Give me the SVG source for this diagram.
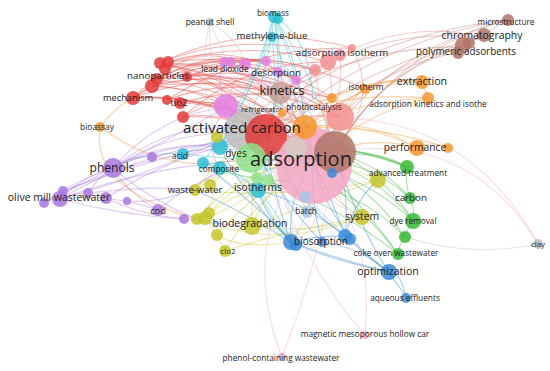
<svg xmlns="http://www.w3.org/2000/svg" width="550" height="371" viewBox="0 0 550 371">
<style>
text{font-family:"Open Sans","Noto Sans","Liberation Sans",sans-serif;fill:#222;text-anchor:middle}
#connectors path{fill:none;stroke-width:1.1;stroke-opacity:.45}
.er path{stroke:#e8504a}.em path{stroke:#dc7edc}.ec path{stroke:#3cc6d6}.ep path{stroke:#b585e0}
.ey path{stroke:#c9c93a}.eb path{stroke:#3b8bd8}.elb path{stroke:#9fc2e6}.eg path{stroke:#45bb45}
.eo path{stroke:#f5a040}.es path{stroke:#f09090}.ebr path{stroke:#c88880}.epk path{stroke:#eeb0cc}
.egr path{stroke:#c4c4c4}.ek path{stroke:#c8a09a}
circle{fill-opacity:.85}
.red{fill:#e23b3b}.mag{fill:#e27ee2}.cya{fill:#2bbfd3}.pur{fill:#a877de}.yel{fill:#c6c62c}
.grn{fill:#35b835}.lgr{fill:#8ee08a}.blu{fill:#3a88d8}.lbl{fill:#a9c6e6}.ora{fill:#f5972e}
.brn{fill:#b07468}.sal{fill:#f29090}.pnk{fill:#f4a6c4}.gry{fill:#bdbdbd}.kin{fill:#c8a09a}
</style>
<g id="connectors">
<g class="er">
<path d="M164,64 Q258,82 313,160"/><path d="M164,64 Q230,80 266,137"/><path d="M164,64 Q226,60 280,93"/>
<path d="M164,64 Q246,38 328,62"/><path d="M164,64 Q260,65 340,118"/><path d="M164,64 Q262,81 335,150"/>
<path d="M187,77 Q267,93 313,160"/><path d="M187,77 Q235,71 280,93"/><path d="M187,77 Q250,48 315,70"/>
<path d="M187,77 Q243,56 297,80"/><path d="M152,86 Q247,91 313,160"/><path d="M152,86 Q219,89 266,137"/>
<path d="M152,86 Q215,69 280,93"/><path d="M152,86 Q251,74 340,118"/><path d="M152,86 Q245,65 333,99"/>
<path d="M133,98 Q235,93 313,160"/><path d="M133,98 Q207,91 266,137"/><path d="M133,98 Q203,71 280,93"/>
<path d="M133,98 Q242,94 335,150"/><path d="M167,100 Q252,101 313,160"/><path d="M167,100 Q220,79 280,93"/>
<path d="M167,100 Q252,46 352,48"/><path d="M180,103 Q258,105 313,160"/><path d="M180,103 Q267,96 335,150"/>
<path d="M180,103 Q263,79 340,118"/><path d="M183,117 Q257,113 313,160"/><path d="M183,117 Q229,110 266,137"/>
<path d="M183,117 Q245,61 328,62"/><path d="M158,80 Q228,52 297,80"/><path d="M158,80 Q252,89 313,160"/>
<path d="M158,80 Q208,49 266,62"/><path d="M160,63 Q240,30 340,55"/><path d="M168,62 Q230,40 296,80"/>
<path d="M133,98 Q200,50 266,61"/><path d="M152,86 Q190,40 245,64"/><path d="M187,77 Q255,100 305,128"/>
<path d="M133,98 Q230,40 315,70"/><path d="M160,63 Q250,20 352,48"/><path d="M133,98 Q170,60 231,62"/>
<path d="M168,62 Q260,50 332,98"/><path d="M157,79 Q250,60 305,128"/><path d="M183,117 Q250,80 332,98"/>
<path d="M165,69 Q270,45 365,89"/><path d="M187,77 Q280,60 340,118"/>
</g>
<g class="em">
<path d="M224,62 Q289,93 313,160"/><path d="M245,64 Q298,98 313,160"/><path d="M266,61 Q309,102 313,160"/>
<path d="M227,107 Q281,116 313,160"/><path d="M227,107 Q250,110 266,137"/><path d="M224,62 Q215,85 227,107"/>
<path d="M245,64 Q230,85 227,107"/><path d="M278,72 Q280,100 266,137"/><path d="M296,80 Q310,120 335,152"/>
<path d="M231,62 Q260,80 280,93"/><path d="M227,107 Q200,140 220,168"/>
</g>
<g class="ec">
<path d="M274,17 Q305,90 313,160"/><path d="M274,17 Q285,80 266,137"/><path d="M274,17 Q268,75 245,130"/>
<path d="M274,17 Q258,80 220,147"/><path d="M274,17 Q295,110 258,190"/><path d="M274,17 Q250,95 203,163"/>
<path d="M272,37 Q300,100 313,160"/><path d="M272,37 Q250,90 220,147"/><path d="M272,37 Q282,120 258,190"/>
<path d="M274,17 Q312,70 335,152"/><path d="M274,17 Q300,60 305,128"/><path d="M220,147 Q265,140 313,160"/>
<path d="M203,163 Q255,178 313,160"/><path d="M258,190 Q290,188 313,160"/><path d="M183,154 Q250,162 313,160"/>
<path d="M183,154 Q150,150 113,168"/><path d="M220,168 Q260,175 291,242"/><path d="M258,190 Q270,215 291,242"/>
<path d="M220,147 Q230,135 266,137"/><path d="M183,154 Q215,140 245,130"/><path d="M203,163 Q240,175 258,190"/>
<path d="M278,19 Q310,40 313,100"/>
</g>
<g class="ep">
<path d="M113,168 Q211,124 313,160"/><path d="M113,168 Q183,122 266,137"/><path d="M113,168 Q175,118 245,130"/>
<path d="M113,168 Q165,140 220,147"/><path d="M113,168 Q130,155 152,157"/><path d="M113,168 Q85,175 60,199"/>
<path d="M113,168 Q130,195 158,210"/><path d="M113,168 Q150,200 197,219"/><path d="M113,168 Q158,115 227,107"/>
<path d="M60,199 Q183,154 313,160"/><path d="M60,199 Q156,143 266,137"/><path d="M60,199 Q110,193 158,210"/>
<path d="M60,199 Q120,215 184,219"/><path d="M44,203 Q75,180 113,168"/><path d="M88,193 Q100,175 113,168"/>
<path d="M106,198 Q180,150 266,137"/><path d="M63,191 Q190,145 305,128"/><path d="M152,157 Q230,140 313,160"/>
<path d="M158,210 Q225,154 313,160"/><path d="M184,219 Q220,225 252,226"/><path d="M127,201 Q180,205 220,168"/>
<path d="M60,199 Q150,175 245,130"/><path d="M88,193 Q160,185 195,190"/><path d="M106,198 Q140,215 184,219"/>
<path d="M44,203 Q150,150 227,107"/><path d="M63,191 Q140,160 183,154"/>
</g>
<g class="ey">
<path d="M252,226 Q269,181 313,160"/><path d="M252,226 Q250,180 266,137"/><path d="M195,190 Q248,151 313,160"/>
<path d="M195,190 Q225,150 266,137"/><path d="M197,219 Q243,166 313,160"/><path d="M205,218 Q250,175 305,198"/>
<path d="M217,235 Q255,190 313,160"/><path d="M225,251 Q255,200 313,160"/><path d="M225,251 Q215,230 205,218"/>
<path d="M209,213 Q260,160 335,152"/><path d="M210,185 Q240,160 266,137"/><path d="M217,137 Q265,125 313,160"/>
<path d="M362,217 Q326,198 313,160"/><path d="M378,180 Q345,165 313,160"/><path d="M197,219 Q280,251 362,217"/>
<path d="M252,226 Q310,235 362,217"/><path d="M195,190 Q290,200 378,180"/><path d="M252,226 Q320,200 378,180"/>
<path d="M217,235 Q240,250 291,242"/><path d="M205,218 Q230,210 258,190"/><path d="M197,219 Q220,200 210,185"/>
<path d="M225,251 Q290,230 362,217"/>
</g>
<g class="eb">
<path d="M291,242 Q287,197 313,160"/><path d="M291,242 Q270,185 266,137"/><path d="M322,242 Q310,200 313,160"/>
<path d="M345,236 Q330,195 313,160"/><path d="M389,272 Q329,231 313,160"/><path d="M389,272 Q360,250 345,236"/>
<path d="M406,298 Q400,270 389,272"/><path d="M406,298 Q380,250 322,242"/><path d="M291,242 Q340,260 389,272"/>
<path d="M291,242 Q265,215 258,190"/><path d="M291,242 Q240,190 220,147"/><path d="M291,242 Q240,210 195,190"/>
<path d="M345,236 Q350,190 335,152"/><path d="M345,236 Q355,200 378,180"/><path d="M291,242 Q320,235 345,236"/>
<path d="M389,272 Q360,230 335,152"/><path d="M350,238 Q300,210 266,137"/><path d="M389,272 Q330,260 291,242"/>
<path d="M322,242 Q280,200 245,130"/><path d="M345,236 Q300,200 258,190"/><path d="M296,244 Q250,200 203,163"/>
</g>
<g class="elb">
<path d="M305,198 Q300,175 313,160"/><path d="M307,212 Q290,170 266,137"/><path d="M305,198 Q330,220 345,236"/>
<path d="M307,212 Q300,230 291,242"/>
</g>
<g class="eg">
<path d="M313,160 Q361,145 407,167"/><path d="M313,160 Q369,160 410,198"/><path d="M313,160 Q375,170 413,221"/>
<path d="M313,160 Q370,185 405,237"/><path d="M313,160 Q360,200 398,254"/><path d="M250,158 Q333,134 407,167"/>
<path d="M250,158 Q347,159 413,221"/><path d="M266,137 Q370,150 410,198"/><path d="M266,137 Q350,190 398,254"/>
<path d="M257,178 Q330,200 398,254"/><path d="M268,180 Q350,180 405,237"/><path d="M335,152 Q380,150 407,167"/>
<path d="M335,152 Q385,175 413,221"/><path d="M407,167 Q405,185 410,198"/><path d="M410,198 Q415,210 413,221"/>
<path d="M413,221 Q400,240 398,254"/><path d="M250,158 Q260,175 258,190"/><path d="M257,178 Q230,175 220,168"/>
<path d="M250,158 Q285,150 313,160"/><path d="M245,130 Q330,140 407,167"/>
</g>
<g class="eo">
<path d="M305,128 Q354,82 422,82"/><path d="M305,128 Q360,100 428,98"/><path d="M305,128 Q365,116 417,148"/>
<path d="M305,128 Q380,125 448,148"/><path d="M332,98 Q380,75 422,82"/><path d="M365,89 Q395,75 422,82"/>
<path d="M313,160 Q363,133 417,148"/><path d="M365,89 Q330,110 313,160"/><path d="M428,98 Q360,115 313,160"/>
<path d="M417,148 Q432,140 448,148"/><path d="M266,137 Q333,78 422,82"/><path d="M282,113 Q300,120 313,160"/>
<path d="M100,127 Q116,106 133,98"/><path d="M100,127 Q200,200 305,128"/><path d="M100,127 Q90,190 200,220"/>
<path d="M332,98 Q320,115 305,128"/><path d="M365,89 Q345,100 335,152"/><path d="M422,82 Q425,90 428,98"/>
<path d="M266,137 Q340,110 417,148"/><path d="M245,130 Q330,90 428,98"/>
</g>
<g class="es">
<path d="M328,62 Q340,114 313,160"/><path d="M340,55 Q345,110 313,160"/><path d="M352,48 Q300,90 266,137"/>
<path d="M315,70 Q300,100 266,137"/><path d="M340,118 Q330,140 313,160"/><path d="M328,62 Q300,80 280,93"/>
<path d="M340,55 Q300,60 280,93"/><path d="M340,118 Q300,110 266,137"/><path d="M315,70 Q320,110 335,152"/>
<path d="M352,48 Q380,100 335,152"/><path d="M340,118 Q390,60 462,47"/><path d="M328,62 Q401,18 484,37"/>
<path d="M340,118 Q310,110 245,130"/>
</g>
<g class="ebr">
<path d="M335,152 Q395,50 508,20"/><path d="M335,152 Q378,73 462,47"/><path d="M335,152 Q385,63 484,37"/>
<path d="M313,160 Q382,51 508,20"/><path d="M266,137 Q369,42 508,20"/><path d="M280,93 Q366,26 484,37"/>
<path d="M280,93 Q370,45 462,47"/><path d="M245,130 Q361,35 508,20"/><path d="M484,37 Q495,25 508,20"/>
<path d="M462,47 Q470,40 484,37"/><path d="M305,128 Q400,60 458,53"/><path d="M266,137 Q380,60 484,37"/>
</g>
<g class="epk">
<path d="M340,118 Q470,120 538,244"/><path d="M335,152 Q470,130 538,244"/><path d="M313,160 Q375,230 365,335"/>
<path d="M266,137 Q290,250 365,335"/><path d="M282,357 Q240,250 300,165"/><path d="M282,357 Q320,260 335,160"/>
<path d="M313,160 Q330,230 291,242"/>
</g>
<g class="egr">
<path d="M405,237 Q470,258 538,244"/><path d="M210,22 Q205,80 245,130"/><path d="M210,22 Q195,80 220,147"/>
<path d="M210,22 Q240,40 245,64"/><path d="M245,130 Q280,160 313,160"/><path d="M245,130 Q300,200 291,242"/>
<path d="M245,130 Q320,200 362,217"/><path d="M210,22 Q230,70 266,137"/>
</g>
<g class="ek">
<path d="M280,93 Q300,120 313,160"/><path d="M280,93 Q250,120 245,130"/>
</g>
</g>
<g id="n-activated-carbon"><circle class="gry" cx="245" cy="130" r="21"/></g>
<g id="n-red-hub"><circle class="red" cx="266" cy="135" r="21"/></g>
<g id="n-adsorption-hub"><circle class="pnk" cx="314" cy="166" r="38"/></g>
<g id="n-brown-hub"><circle class="brn" cx="335" cy="152" r="21" fill-opacity=".7"/></g>
<g id="n-grey-inner"><circle cx="296" cy="148" r="11" fill="#d4ccc4" fill-opacity=".7"/></g>
<g id="n-dyes"><circle class="lgr" cx="251" cy="158" r="15"/><text x="236" y="157" font-size="10">dyes</text></g>
<g id="n-orange-hub"><circle class="ora" cx="305" cy="127" r="12"/></g>
<g id="n-photocat-big"><circle class="sal" cx="340" cy="117" r="14"/></g>
<g id="n-refrigerator"><circle class="mag" cx="226" cy="106" r="12"/><text x="262" y="111.5" font-size="7.8">refrigerator</text></g>
<g id="n-kinetics"><circle class="kin" cx="280" cy="93" r="11"/><text x="282" y="94.5" font-size="12.8">kinetics</text></g>
<g id="n-red-cluster">
<circle class="red" cx="160" cy="63" r="6"/><circle class="red" cx="168" cy="62" r="6"/><circle class="red" cx="165" cy="69" r="6"/>
<circle class="red" cx="187" cy="77" r="5"/><circle class="red" cx="157" cy="79" r="6"/><circle class="red" cx="183" cy="117" r="6"/>
<circle class="red" cx="167" cy="100" r="5"/>
</g>
<g id="n-nanoparticles"><circle class="red" cx="152" cy="86" r="7"/><text x="158" y="79" font-size="9.8">nanoparticles</text></g>
<g id="n-mechanism"><circle class="red" cx="133" cy="98" r="7"/><text x="128" y="101" font-size="9.3">mechanism</text></g>
<g id="n-tio2"><circle class="red" cx="180" cy="103" r="6"/><text x="179" y="106" font-size="9.6">tio2</text></g>
<g id="n-magenta-cluster">
<circle class="mag" cx="231" cy="62" r="5"/><circle class="mag" cx="245" cy="64" r="6"/><circle class="mag" cx="266" cy="61" r="5"/>
<circle class="mag" cx="296" cy="80" r="5"/>
</g>
<g id="n-lead-dioxide"><circle class="mag" cx="224" cy="62" r="5"/><text x="225" y="71.7" font-size="8.4">lead dioxide</text></g>
<g id="n-desorption"><circle class="mag" cx="278" cy="72" r="5"/><text x="276" y="76" font-size="9.8">desorption</text></g>
<g id="n-peanut-shell"><circle class="gry" cx="210" cy="22" r="4"/><text x="210" y="24.7" font-size="8.5">peanut shell</text></g>
<g id="n-biomass"><circle class="cya" cx="278" cy="19" r="5"/><circle class="cya" cx="274" cy="17" r="6"/><text x="273" y="15.6" font-size="8.2">biomass</text></g>
<g id="n-methylene-blue"><circle class="cya" cx="272" cy="37" r="5"/><text x="272" y="39" font-size="9.7">methylene-blue</text></g>
<g id="n-salmon-cluster"><circle class="sal" cx="352" cy="48" r="4"/><circle class="sal" cx="340" cy="55" r="6"/><circle class="sal" cx="315" cy="70" r="6"/></g>
<g id="n-adsorption-isotherm"><circle class="sal" cx="328" cy="62" r="8"/><text x="342" y="56" font-size="9.7">adsorption isotherm</text></g>
<g id="n-photocatalysis"><circle class="ora" cx="332" cy="98" r="5"/><circle class="ora" cx="282" cy="113" r="4"/><text x="314" y="109.7" font-size="8.3">photocatalysis</text></g>
<g id="n-isotherm"><circle class="ora" cx="365" cy="89" r="5"/><text x="366" y="89.7" font-size="8.3">isotherm</text></g>
<g id="n-extraction"><circle class="ora" cx="422" cy="82" r="7"/><text x="422" y="85.4" font-size="10.7">extraction</text></g>
<g id="n-adsorption-kinetics"><circle class="ora" cx="428" cy="98" r="6"/><text x="428" y="106.7" font-size="8.4">adsorption kinetics and isothe</text></g>
<g id="n-microstructure"><circle class="brn" cx="508" cy="20" r="6"/><text x="506" y="24.6" font-size="8.2">microstructure</text></g>
<g id="n-chromatography"><circle class="brn" cx="484" cy="35" r="7"/><text x="482" y="39.3" font-size="10.4">chromatography</text></g>
<g id="n-polymeric-adsorbents"><circle class="brn" cx="463" cy="45" r="8"/><circle class="brn" cx="469" cy="43" r="6"/><circle class="brn" cx="458" cy="53" r="6"/><text x="466" y="55.2" font-size="9.9">polymeric adsorbents</text></g>
<g id="n-performance"><circle class="ora" cx="417" cy="148" r="8"/><circle class="ora" cx="448" cy="148" r="5"/><text x="415" y="151.3" font-size="10.3">performance</text></g>
<g id="n-bioassay"><circle class="ora" cx="100" cy="127" r="5"/><text x="97" y="129.7" font-size="8.4">bioassay</text></g>
<g id="n-cyan-cluster"><circle class="cya" cx="220" cy="147" r="8"/><circle class="cya" cx="203" cy="163" r="6"/></g>
<g id="n-acid"><circle class="cya" cx="183" cy="154" r="6"/><text x="180" y="158.7" font-size="8.4">acid</text></g>
<g id="n-composite"><circle class="cya" cx="220" cy="168" r="7"/><text x="219" y="171.7" font-size="8.3">composite</text></g>
<g id="n-isotherms"><circle class="cya" cx="258" cy="190" r="8"/><text x="258" y="191.3" font-size="10.3">isotherms</text></g>
<g id="n-yellow-top"><circle class="yel" cx="217" cy="137" r="6"/></g>
<g id="n-lightgreen"><circle class="lgr" cx="257" cy="178" r="6"/><circle class="lgr" cx="268" cy="180" r="6"/></g>
<g id="n-batch"><circle class="lbl" cx="305" cy="197" r="6"/><circle class="lbl" cx="307" cy="212" r="6"/><text x="306" y="213.7" font-size="8.3">batch</text></g>
<g id="n-center-blue"><circle class="blu" cx="332" cy="173" r="5"/></g>
<g id="n-phenols"><circle class="pur" cx="113" cy="168" r="10"/><circle class="pur" cx="152" cy="157" r="5"/><text x="112" y="172" font-size="12">phenols</text></g>
<g id="n-olive-mill-wastewater">
<circle class="pur" cx="63" cy="191" r="5"/><circle class="pur" cx="60" cy="199" r="8"/><circle class="pur" cx="44" cy="203" r="5"/>
<circle class="pur" cx="88" cy="193" r="5"/><circle class="pur" cx="106" cy="198" r="6"/><circle class="pur" cx="127" cy="201" r="4"/>
<text x="59" y="201.4" font-size="10.5">olive mill wastewater</text></g>
<g id="n-cod"><circle class="pur" cx="158" cy="210" r="6"/><circle class="pur" cx="184" cy="219" r="5"/><text x="158" y="214" font-size="9.3">cod</text></g>
<g id="n-waste-water"><circle class="yel" cx="195" cy="190" r="6"/><circle class="yel" cx="210" cy="185" r="6"/><text x="195" y="193" font-size="9.6">waste-water</text></g>
<g id="n-biodegradation">
<circle class="yel" cx="197" cy="219" r="6"/><circle class="yel" cx="205" cy="218" r="7"/><circle class="yel" cx="209" cy="213" r="6"/>
<circle class="yel" cx="217" cy="235" r="6"/><circle class="yel" cx="252" cy="226" r="9"/>
<text x="250" y="227.4" font-size="10.5">biodegradation</text></g>
<g id="n-clo2"><circle class="yel" cx="225" cy="251" r="6"/><text x="228" y="253.5" font-size="7.9">clo2</text></g>
<g id="n-advanced-treatment"><circle class="yel" cx="378" cy="180" r="8"/><circle class="grn" cx="407" cy="167" r="7"/><text x="408" y="175.7" font-size="8.3">advanced treatment</text></g>
<g id="n-system"><circle class="yel" cx="362" cy="217" r="8"/><text x="362" y="220.3" font-size="10.3">system</text></g>
<g id="n-carbon"><circle class="grn" cx="410" cy="198" r="6"/><text x="411" y="201.1" font-size="9.8">carbon</text></g>
<g id="n-dye-removal"><circle class="grn" cx="413" cy="221" r="8"/><circle class="grn" cx="405" cy="237" r="6"/><text x="413" y="223.6" font-size="8.2">dye removal</text></g>
<g id="n-coke-oven-wastewater"><circle class="grn" cx="398" cy="254" r="6"/><text x="396" y="255.6" font-size="8.2">coke oven wastewater</text></g>
<g id="n-biosorption">
<circle class="blu" cx="291" cy="242" r="8"/><circle class="blu" cx="296" cy="245" r="6"/><circle class="blu" cx="322" cy="242" r="5"/>
<circle class="blu" cx="345" cy="236" r="7"/><circle class="blu" cx="350" cy="239" r="6"/>
<text x="321" y="245.2" font-size="10">biosorption</text></g>
<g id="n-optimization"><circle class="blu" cx="389" cy="272" r="8"/><text x="388" y="275.4" font-size="10.5">optimization</text></g>
<g id="n-aqueous-effluents"><circle class="blu" cx="406" cy="298" r="5"/><text x="405" y="300.7" font-size="8.3">aqueous effluents</text></g>
<g id="n-clay"><circle class="gry" cx="538" cy="244" r="5"/><text x="538" y="246.5" font-size="7.9">clay</text></g>
<g id="n-magnetic"><circle class="pnk" cx="365" cy="335" r="4"/><text x="365" y="336.7" font-size="8.3">magnetic mesoporous hollow car</text></g>
<g id="n-phenol-containing"><circle class="pnk" cx="282" cy="357" r="4"/><text x="281" y="360.7" font-size="8.3">phenol-containing wastewater</text></g>
<g id="n-labels-hubs">
<text x="242" y="132.8" font-size="15.2">activated carbon</text>
<text x="301" y="166.4" font-size="20">adsorption</text>
</g>
</svg>
